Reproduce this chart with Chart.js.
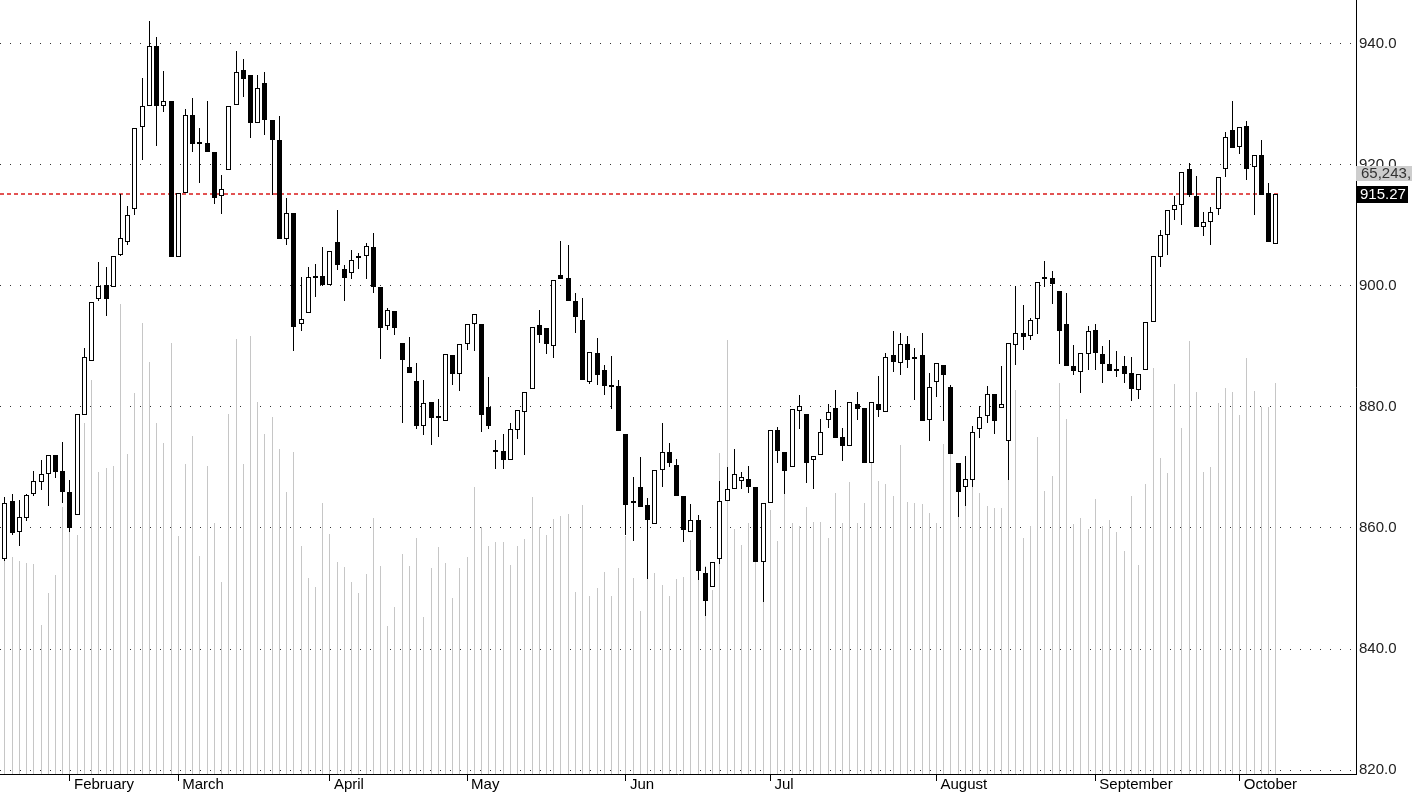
<!DOCTYPE html>
<html>
<head>
<meta charset="utf-8">
<title>Daily candles</title>
<script src="https://cdn.jsdelivr.net/npm/chart.js@4.4.0/dist/chart.umd.min.js"></script>
<style>
  html, body { margin: 0; padding: 0; background: #fff; overflow: hidden; }
  canvas { display: block; }
</style>
</head>
<body>
<canvas id="priceChart" width="1412" height="793"></canvas>
<script>
// daily candles (one value per trading day)
const opens = [
  854.8, 864.4, 859.4, 861.7, 865.6, 867.6, 868.9, 872.1, 869.5, 865.9,
  862.2, 878.6, 887.6, 897.9, 900.2, 899.9, 905.2, 907.2, 912.8, 926.3,
  929.7, 939.7, 929.8, 930.5, 904.8, 915.3, 928.3, 923.7, 923.7, 922.1,
  914.9, 919.2, 929.9, 935.7, 934.9, 927.0, 933.5, 927.5, 924.1, 907.8,
  912.0, 893.7, 895.6, 901.6, 901.7, 900.1, 907.2, 902.8, 902.1, 904.6,
  905.0, 906.4, 899.8, 893.4, 895.9, 890.6, 886.6, 884.3, 876.9, 880.9,
  878.2, 877.7, 888.6, 885.5, 890.4, 893.7, 893.7, 880.0, 872.5, 872.8,
  871.3, 876.2, 879.1, 882.9, 893.6, 893.0, 890.0, 901.8, 901.4, 897.6,
  894.3, 884.2, 888.9, 886.1, 883.5, 883.5, 875.6, 864.2, 866.7, 863.8,
  860.7, 869.6, 872.5, 870.4, 865.3, 859.4, 861.3, 852.6, 850.3, 854.8,
  864.4, 866.4, 867.8, 868.1, 866.8, 854.4, 864.2, 876.2, 872.6, 870.0,
  879.4, 878.8, 871.2, 872.1, 877.9, 879.9, 875.1, 873.6, 880.5, 879.8,
  870.8, 880.5, 879.2, 888.6, 887.3, 890.4, 887.9, 888.6, 877.9, 884.2,
  886.9, 883.3, 870.8, 866.7, 868.0, 876.3, 878.5, 882.1, 879.9, 874.3,
  890.2, 892.3, 891.7, 894.5, 901.2, 901.4, 899.2, 893.8, 886.8, 885.8,
  888.8, 892.7, 888.8, 887.1, 886.0, 886.7, 885.7, 882.8, 886.1, 894.1,
  904.8, 908.4, 912.5, 913.4, 919.4, 914.8, 909.8, 910.5, 912.7, 919.3,
  925.8, 923.0, 926.4, 919.6, 921.7, 915.4, 906.9
];
const highs = [
  865.2, 865.6, 864.7, 865.6, 869.5, 871.2, 872.1, 872.1, 874.2, 868.0,
  878.8, 889.8, 897.3, 904.0, 903.1, 905.0, 915.2, 913.3, 926.1, 934.4,
  943.8, 941.2, 935.6, 930.5, 915.3, 929.2, 931.0, 926.1, 930.6, 922.1,
  918.3, 929.8, 938.9, 937.6, 934.9, 934.9, 935.3, 927.5, 928.1, 914.5,
  912.0, 901.5, 903.1, 903.6, 906.5, 905.8, 912.6, 903.5, 906.0, 905.5,
  907.1, 908.7, 899.8, 896.4, 895.9, 890.6, 891.5, 887.2, 884.5, 880.9,
  881.4, 888.8, 888.6, 890.4, 893.7, 895.4, 893.7, 884.9, 874.6, 875.5,
  877.4, 879.5, 882.5, 893.2, 896.0, 893.0, 901.0, 907.4, 906.8, 898.8,
  898.0, 889.1, 891.4, 887.0, 888.4, 884.5, 875.6, 868.4, 871.7, 864.9,
  869.6, 877.3, 874.1, 871.4, 865.3, 864.0, 862.1, 853.6, 854.3, 867.7,
  870.0, 873.1, 869.3, 870.2, 866.8, 864.2, 876.2, 876.7, 872.6, 879.6,
  882.0, 878.8, 871.9, 878.0, 880.5, 882.8, 876.5, 880.9, 882.5, 879.8,
  880.8, 885.1, 888.9, 892.6, 892.2, 891.7, 889.7, 892.2, 885.7, 887.3,
  886.9, 883.6, 870.8, 871.9, 876.9, 880.1, 883.4, 882.1, 886.7, 890.6,
  900.0, 896.9, 894.7, 900.6, 904.2, 902.4, 899.2, 898.9, 890.2, 889.0,
  893.4, 893.8, 890.1, 891.1, 889.3, 888.4, 888.3, 885.5, 894.1, 905.0,
  909.3, 912.5, 914.9, 918.8, 920.4, 918.2, 912.3, 913.0, 918.0, 925.5,
  930.6, 926.2, 927.2, 921.6, 924.1, 917.1, 915.27
];
const lows = [
  854.5, 858.8, 857.1, 861.2, 865.3, 866.2, 863.6, 868.3, 864.1, 859.4,
  862.2, 878.6, 887.6, 897.5, 895.1, 899.9, 904.9, 906.8, 911.7, 920.8,
  929.7, 923.2, 928.8, 904.8, 904.8, 915.3, 922.2, 917.0, 922.2, 913.6,
  911.9, 919.2, 929.9, 931.3, 924.4, 927.0, 925.0, 915.0, 907.8, 906.8,
  889.3, 892.5, 895.6, 898.2, 900.0, 900.1, 902.6, 897.6, 901.1, 902.8,
  901.1, 898.9, 887.9, 892.7, 891.9, 877.3, 885.7, 876.3, 875.4, 873.7,
  875.1, 877.7, 883.7, 882.7, 889.4, 889.3, 875.8, 876.3, 869.8, 869.8,
  871.3, 874.7, 872.1, 882.9, 890.5, 888.8, 888.1, 901.2, 897.6, 892.2,
  884.4, 883.8, 883.6, 882.0, 879.6, 876.0, 858.8, 857.9, 863.5, 851.5,
  860.7, 866.8, 870.1, 865.3, 857.7, 859.4, 851.4, 845.5, 850.3, 854.0,
  864.4, 866.4, 866.4, 865.8, 854.3, 847.8, 864.2, 870.7, 865.6, 870.0,
  876.3, 867.4, 866.4, 872.1, 876.6, 874.8, 871.0, 873.6, 877.9, 870.7,
  870.8, 878.4, 879.2, 885.8, 885.3, 886.4, 881.2, 877.7, 874.4, 881.7,
  877.7, 872.2, 861.9, 863.6, 866.7, 874.8, 877.3, 875.5, 879.9, 867.9,
  886.9, 889.4, 891.1, 892.1, 899.8, 897.0, 887.1, 886.8, 885.3, 882.3,
  886.1, 886.1, 883.9, 886.0, 885.0, 883.9, 881.0, 881.4, 886.1, 894.1,
  903.1, 905.1, 910.9, 910.1, 914.7, 909.8, 908.2, 906.8, 911.7, 918.0,
  922.8, 921.8, 917.6, 911.7, 915.0, 907.3, 906.9
];
const closes = [
  864.1, 859.1, 861.8, 865.4, 867.8, 868.9, 872.1, 869.2, 866.0, 860.0,
  878.8, 888.3, 897.3, 900.0, 897.8, 905.0, 908.0, 911.8, 926.1, 929.7,
  939.7, 929.7, 930.6, 904.8, 915.3, 928.3, 923.5, 923.5, 922.2, 914.6,
  916.0, 929.8, 935.3, 934.2, 927.0, 932.7, 927.4, 924.1, 907.8, 912.1,
  893.3, 894.5, 901.5, 901.4, 900.1, 905.8, 903.5, 901.4, 904.3, 904.8,
  906.6, 899.9, 893.0, 896.0, 893.1, 887.7, 885.7, 876.9, 880.6, 878.2,
  878.4, 888.7, 885.5, 890.4, 893.7, 895.4, 878.6, 876.9, 872.8, 871.3,
  876.3, 879.5, 882.5, 893.2, 891.9, 890.4, 901.0, 901.2, 897.6, 894.9,
  884.4, 889.1, 885.3, 883.4, 883.3, 876.0, 863.8, 864.3, 863.5, 861.3,
  869.6, 872.5, 870.8, 865.3, 859.6, 861.4, 852.9, 848.0, 854.3, 864.5,
  866.4, 868.9, 868.5, 866.7, 854.3, 864.2, 876.2, 872.8, 869.5, 879.6,
  880.1, 870.8, 871.9, 875.9, 879.1, 874.8, 873.6, 880.9, 879.6, 870.7,
  880.8, 879.5, 888.2, 887.4, 890.4, 887.8, 888.3, 877.7, 883.3, 887.3,
  885.3, 872.2, 866.0, 868.1, 875.8, 878.4, 882.1, 877.7, 880.5, 890.6,
  892.3, 891.6, 894.4, 900.6, 901.3, 900.3, 892.5, 886.8, 886.0, 889.0,
  892.5, 888.9, 887.1, 886.0, 886.1, 885.5, 882.9, 885.5, 894.1, 905.0,
  908.4, 912.5, 913.4, 918.8, 915.0, 909.8, 910.6, 912.3, 918.0, 924.7,
  922.8, 926.2, 919.4, 921.6, 915.0, 907.3, 915.27
];
// volume in thousands
const volumes = [
  35.7, 36.2, 35.5, 35.2, 35.0, 24.8, 30.2, 33.2, 44.5, 40.7,
  39.8, 58.5, 65.7, 50.3, 51.0, 51.3, 78.3, 53.3, 63.5, 75.2,
  68.7, 58.5, 55.2, 71.8, 39.7, 51.7, 56.3, 36.3, 51.3, 41.8,
  32.0, 60.0, 72.5, 51.7, 73.0, 62.0, 56.7, 59.5, 54.2, 47.0,
  53.7, 38.0, 32.7, 31.2, 45.2, 40.0, 35.3, 34.5, 32.0, 30.2,
  33.3, 42.7, 34.7, 24.7, 27.8, 36.7, 34.7, 39.3, 26.2, 34.3,
  37.8, 35.1, 29.3, 34.4, 36.2, 47.8, 41.1, 38.0, 38.6, 38.7,
  34.8, 38.0, 39.1, 46.1, 41.2, 39.8, 42.5, 43.0, 43.3, 30.4,
  44.8, 29.7, 31.0, 33.7, 29.7, 34.3, 39.6, 32.6, 27.2, 32.5,
  33.5, 31.5, 29.6, 32.5, 32.9, 39.0, 34.0, 34.6, 30.7, 53.5,
  72.3, 40.8, 38.2, 41.8, 41.8, 35.1, 44.0, 38.9, 49.1, 41.8,
  41.3, 44.5, 42.0, 42.0, 39.3, 46.8, 41.8, 48.7, 41.8, 45.1,
  51.8, 48.9, 48.3, 46.3, 54.8, 45.3, 45.1, 45.0, 43.5, 41.8,
  55.0, 53.5, 46.8, 44.8, 48.5, 46.8, 44.7, 44.3, 44.3, 49.0,
  64.0, 39.3, 41.3, 56.2, 47.1, 49.7, 65.2, 59.1, 41.6, 42.6,
  40.8, 45.8, 41.3, 42.3, 40.4, 37.1, 46.3, 34.8, 48.3, 67.6,
  52.6, 50.1, 65.0, 57.6, 72.2, 63.7, 50.4, 51.1, 61.8, 64.3,
  63.7, 59.8, 69.3, 63.9, 61.2, 61.1, 65.243
];

// first trading day of each month (1-based day number) and its label
const monthStarts = [10, 25, 46, 65, 87, 107, 130, 152, 172];
const monthNames = ["February", "March", "April", "May", "Jun", "Jul", "August", "September", "October"];
const priceTicks = [820, 840, 860, 880, 900, 920, 940];

// axis ranges
const dayMin = 0.31, dayMax = 188.1;
const priceMin = 819.34, priceMax = 947.27;
const volMax = 129;

const days = closes.map((c, i) => i + 1);
const last = closes.length - 1;
const lastClose = closes[last];
const volText = Math.round(volumes[last] * 1000).toLocaleString('en-US') + ',';

const FONT = '"Liberation Sans", Arial, sans-serif';
Chart.defaults.font.family = FONT;

// put bar edges and the price line on whole pixels so thin strokes stay sharp
const pixelSnap = {
  id: 'pixelSnap',
  beforeDatasetsDraw(chart) {
    chart.data.datasets.forEach((ds, i) => {
      const meta = chart.getDatasetMeta(i);
      if (meta.type === 'bar') {
        meta.data.forEach(el => {
          el.x = Math.floor(el.x) + 0.5;
          el.y = Math.round(el.y);
          el.base = Math.round(el.base);
        });
      } else if (meta.type === 'line') {
        meta.data.forEach(pt => { pt.y = Math.round(pt.y); });
      }
    });
  }
};

// last volume and last price boxes on the right axis
const lastLabels = {
  id: 'lastLabels',
  afterDraw(chart) {
    const ctx = chart.ctx;
    const y = Math.round(chart.scales.y.getPixelForValue(lastClose));
    const left = chart.chartArea.right;
    ctx.save();
    ctx.font = '15px ' + FONT;
    ctx.textBaseline = 'middle';
    ctx.fillStyle = '#cdcdcd';
    ctx.fillRect(left, y - 28, 60, 15);
    ctx.fillStyle = '#333';
    ctx.fillText(volText, left + 5, y - 20);
    ctx.fillStyle = '#000';
    ctx.fillRect(left, y - 8, 52, 17);
    ctx.fillStyle = '#fff';
    ctx.fillText(lastClose.toFixed(2), left + 4, y + 1);
    ctx.restore();
  }
};

const noEdgePadding = axis => {
  axis.paddingTop = 0;
  axis.paddingBottom = 0;
  axis.paddingLeft = 0;
  axis.paddingRight = 0;
};

new Chart(document.getElementById('priceChart'), {
  type: 'bar',
  data: {
    datasets: [
      {
        // last price line
        type: 'line',
        data: [{ x: dayMin, y: lastClose }, { x: days[last] + 0.3, y: lastClose }],
        yAxisID: 'y',
        borderColor: '#e25252',
        borderWidth: 2,
        borderDash: [4, 3],
        pointRadius: 0,
        order: 3
      },
      {
        // volume
        data: volumes.map((v, i) => ({ x: days[i], y: v })),
        yAxisID: 'yVol',
        backgroundColor: '#c6c6c6',
        barThickness: 1,
        grouped: false,
        inflateAmount: 0,
        order: 4
      },
      {
        // high-low wicks
        data: highs.map((h, i) => ({ x: days[i], y: [lows[i], h] })),
        yAxisID: 'y',
        backgroundColor: '#000',
        barThickness: 1,
        grouped: false,
        inflateAmount: 0,
        order: 2
      },
      {
        // open-close bodies
        data: opens.map((o, i) => ({ x: days[i], y: [o, closes[i]] })),
        yAxisID: 'y',
        backgroundColor: closes.map((c, i) => c >= opens[i] ? '#fff' : '#000'),
        borderColor: '#000',
        borderWidth: 1,
        borderSkipped: false,
        barThickness: 5,
        minBarLength: 2,
        grouped: false,
        inflateAmount: 0,
        order: 1
      }
    ]
  },
  options: {
    responsive: false,
    animation: false,
    devicePixelRatio: 1,
    layout: { padding: 0, autoPadding: false },
    plugins: {
      legend: { display: false },
      tooltip: { enabled: false }
    },
    scales: {
      x: {
        type: 'linear',
        position: 'bottom',
        min: dayMin,
        max: dayMax,
        offset: false,
        afterBuildTicks: axis => { axis.ticks = monthStarts.map(v => ({ value: v })); },
        afterFit: axis => { axis.height = 19; noEdgePadding(axis); },
        grid: { drawOnChartArea: false, drawTicks: true, tickLength: 7, tickColor: '#000', tickWidth: 1, offset: false },
        border: { display: true, color: '#000', width: 1 },
        ticks: {
          align: 'start',
          labelOffset: 4,
          padding: -5,
          autoSkip: false,
          maxRotation: 0,
          color: '#000',
          font: { size: 15 },
          callback: v => monthNames[monthStarts.indexOf(v)]
        }
      },
      y: {
        position: 'right',
        min: priceMin,
        max: priceMax,
        afterBuildTicks: axis => { axis.ticks = priceTicks.map(v => ({ value: v })); },
        afterFit: axis => { axis.width = 56; noEdgePadding(axis); },
        grid: { color: '#333', lineWidth: 1, drawTicks: false },
        border: { display: true, color: '#000', width: 1, dash: [1, 9] },
        ticks: {
          padding: 3,
          color: '#222',
          font: { size: 15 },
          callback: v => v.toFixed(1)
        }
      },
      yVol: {
        display: false,
        min: 0,
        max: volMax
      }
    }
  },
  plugins: [pixelSnap, lastLabels]
});
</script>
</body>
</html>
